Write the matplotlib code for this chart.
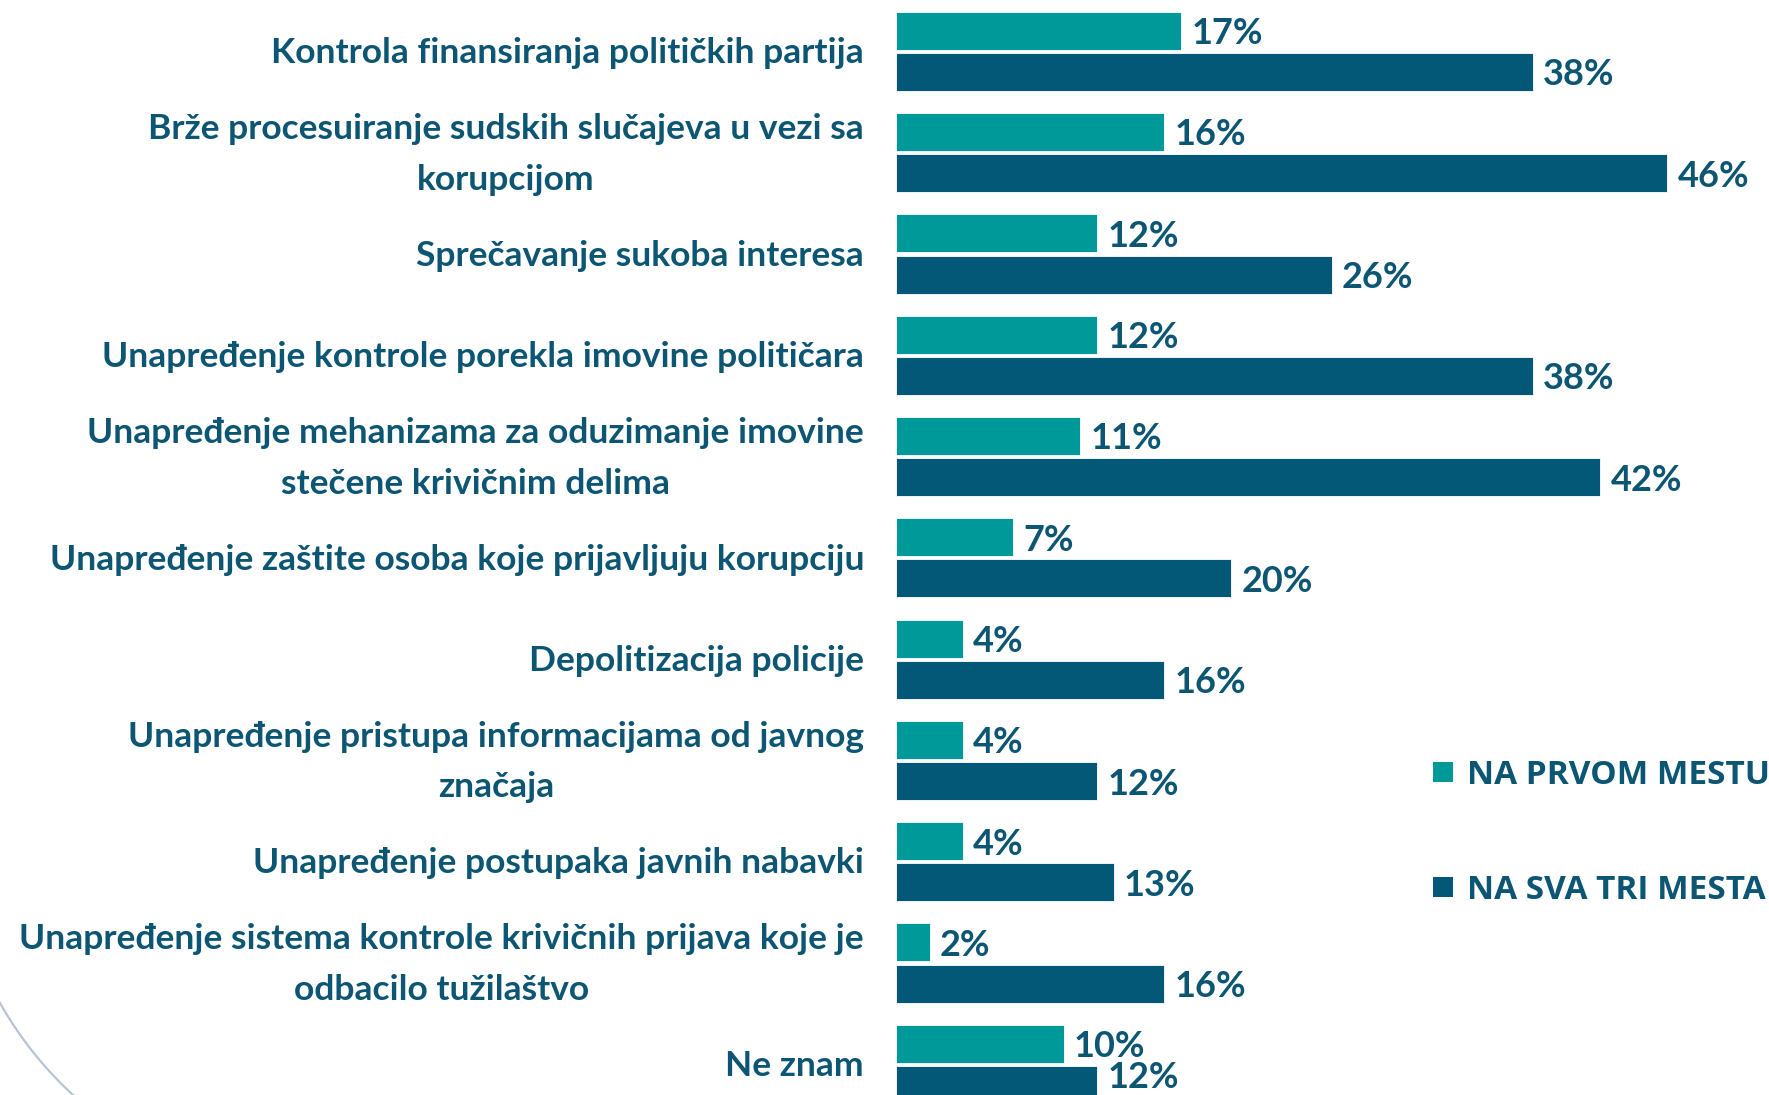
import numpy as np
import matplotlib
matplotlib.use("Agg")
import matplotlib.pyplot as plt
from matplotlib.transforms import blended_transform_factory
from matplotlib.patches import Rectangle
from matplotlib.lines import Line2D

categories = [
    "Kontrola finansiranja političkih partija",
    "Brže procesuiranje sudskih slučajeva u vezi sa\nkorupcijom",
    "Sprečavanje sukoba interesa",
    "Unapređenje kontrole porekla imovine političara",
    "Unapređenje mehanizama za oduzimanje imovine\nstečene krivičnim delima",
    "Unapređenje zaštite osoba koje prijavljuju korupciju",
    "Depolitizacija policije",
    "Unapređenje pristupa informacijama od javnog\nznačaja",
    "Unapređenje postupaka javnih nabavki",
    "Unapređenje sistema kontrole krivičnih prijava koje je\nodbacilo tužilaštvo",
    "Ne znam",
]
first_place = [17, 16, 12, 12, 11, 7, 4, 4, 4, 2, 10]
all_three = [38, 46, 26, 38, 42, 20, 16, 12, 13, 16, 12]
series_names = ["NA PRVOM MESTU", "NA SVA TRI MESTA"]

TEAL = "#009999"
NAVY = "#035877"
TEXT = "#0C5674"

W, H = 1769, 1095
fig = plt.figure(figsize=(W / 100, H / 100), dpi=100)
ax_left = 896 / W
ax = fig.add_axes([ax_left, 0, 1 - ax_left, 1])
ax.set_xlim(0, (W - 896) / 16.77)
y_bottom, y_top = 10.306, -0.503
ax.set_ylim(y_bottom, y_top)
ax.axis("off")

y = np.arange(len(categories))
h = 0.375
ax.barh(y - 0.2, first_place, height=h, color=TEAL, edgecolor="white", linewidth=0.6)
ax.barh(y + 0.207, all_three, height=h, color=NAVY, edgecolor="white", linewidth=0.6)

for yi, v in zip(y, first_place):
    ax.text(v + 0.6, yi - 0.2, f"{v}%", ha="left", va="center_baseline",
            fontsize=26, fontweight="bold", family="Lato", color=TEXT)
for yi, v in zip(y, all_three):
    ty = min(yi + 0.207, y_bottom - 0.2)   # keep label inside the figure
    ax.text(v + 0.6, ty, f"{v}%", ha="left", va="center_baseline",
            fontsize=26, fontweight="bold", family="Lato", color=TEXT)

trans = blended_transform_factory(fig.transFigure, ax.transData)
for yi, lab in zip(y, categories):
    ax.text(864 / W, yi + 0.02, lab, transform=trans, ha="right", va="center",
            multialignment="center", linespacing=1.72,
            fontsize=25.5, fontweight="bold", family="Lato", color=TEXT)

# legend
for name, col, sq_top, base in zip(series_names, [TEAL, NAVY], [762, 877], [784, 899]):
    fig.add_artist(Rectangle((1433 / W, 1 - (sq_top + 20) / H), 20 / W, 20 / H,
                             transform=fig.transFigure, color=col, lw=0))
    fig.text(1467 / W, 1 - base / H, name, ha="left", va="baseline",
             fontsize=24, fontweight="bold", family="Open Sans", color=TEXT)

# decorative arc in bottom-left corner
p = np.array([[0, 1003], [33, 1052], [73, 1095]], dtype=float)
A = np.array([[2 * (p[1, 0] - p[0, 0]), 2 * (p[1, 1] - p[0, 1])],
              [2 * (p[2, 0] - p[0, 0]), 2 * (p[2, 1] - p[0, 1])]])
b = np.array([p[1] @ p[1] - p[0] @ p[0], p[2] @ p[2] - p[0] @ p[0]])
c = np.linalg.solve(A, b)
r = np.hypot(*(p[0] - c))
a0 = np.arctan2(p[0, 1] - c[1], p[0, 0] - c[0])
a1 = np.arctan2(p[2, 1] - c[1], p[2, 0] - c[0])
ang = np.linspace(a0 - 0.3 * (a1 - a0), a1 + 0.2 * (a1 - a0), 200)
xs = c[0] + r * np.cos(ang)
ys = c[1] + r * np.sin(ang)
fig.add_artist(Line2D(xs / W, 1 - ys / H, transform=fig.transFigure,
                      color="#B8C3D6", lw=1.6))

fig.savefig("out.png", dpi=100)
